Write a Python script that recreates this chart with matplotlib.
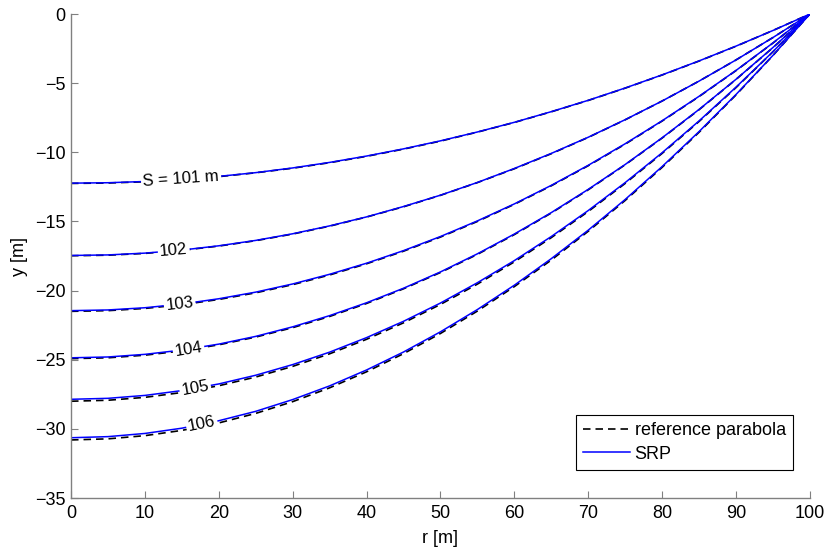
import numpy as np
import matplotlib
matplotlib.use("Agg")
import matplotlib.pyplot as plt

plt.rcParams['font.family'] = ['Liberation Sans', 'DejaVu Sans']
plt.rcParams['font.size'] = 13

# radial position along the profile
r = [0, 5, 10, 15, 20, 25, 30, 35, 40, 45, 50,
     55, 60, 65, 70, 75, 80, 85, 90, 95, 100]

S_values = [101, 102, 103, 104, 105, 106]

# reference parabola with the same arc length S
ref_101 = [-12.25, -12.22, -12.13, -11.97, -11.76, -11.48, -11.15, -10.75, -10.29, -9.77, -9.19,
           -8.54, -7.84, -7.07, -6.25, -5.36, -4.41, -3.40, -2.33, -1.19, 0.0]
ref_102 = [-17.48, -17.44, -17.31, -17.09, -16.78, -16.39, -15.91, -15.34, -14.68, -13.94, -13.11,
           -12.19, -11.19, -10.10, -8.92, -7.65, -6.29, -4.85, -3.32, -1.70, 0.0]
ref_103 = [-21.50, -21.45, -21.29, -21.02, -20.64, -20.16, -19.57, -18.87, -18.06, -17.15, -16.13,
           -15.00, -13.76, -12.42, -10.97, -9.41, -7.74, -5.97, -4.09, -2.10, 0.0]
ref_104 = [-24.92, -24.86, -24.67, -24.36, -23.92, -23.36, -22.68, -21.87, -20.93, -19.87, -18.69,
           -17.38, -15.95, -14.39, -12.71, -10.90, -8.97, -6.92, -4.73, -2.43, 0.0]
ref_105 = [-28.00, -27.93, -27.72, -27.37, -26.88, -26.25, -25.48, -24.57, -23.52, -22.33, -21.00,
           -19.53, -17.92, -16.17, -14.28, -12.25, -10.08, -7.77, -5.32, -2.73, 0.0]
ref_106 = [-30.80, -30.72, -30.49, -30.11, -29.57, -28.88, -28.03, -27.03, -25.87, -24.56, -23.10,
           -21.48, -19.71, -17.79, -15.71, -13.48, -11.09, -8.55, -5.85, -3.00, 0.0]

# SRP solution
srp_101 = [-12.23, -12.20, -12.11, -11.95, -11.74, -11.47, -11.13, -10.73, -10.27, -9.75, -9.17,
           -8.53, -7.83, -7.06, -6.24, -5.35, -4.40, -3.39, -2.32, -1.19, 0.0]
srp_102 = [-17.46, -17.42, -17.29, -17.07, -16.76, -16.37, -15.89, -15.32, -14.67, -13.92, -13.10,
           -12.18, -11.17, -10.08, -8.91, -7.64, -6.29, -4.85, -3.32, -1.70, 0.0]
srp_103 = [-21.45, -21.40, -21.24, -20.97, -20.59, -20.11, -19.52, -18.82, -18.02, -17.11, -16.09,
           -14.96, -13.73, -12.39, -10.94, -9.38, -7.72, -5.95, -4.08, -2.09, 0.0]
srp_104 = [-24.86, -24.80, -24.61, -24.30, -23.87, -23.31, -22.62, -21.81, -20.88, -19.83, -18.65,
           -17.34, -15.91, -14.36, -12.68, -10.88, -8.95, -6.90, -4.72, -2.42, 0.0]
srp_105 = [-27.86, -27.79, -27.58, -27.23, -26.75, -26.12, -25.35, -24.45, -23.40, -22.22, -20.90,
           -19.43, -17.83, -16.09, -14.21, -12.19, -10.03, -7.73, -5.29, -2.72, 0.0]
srp_106 = [-30.64, -30.56, -30.33, -29.95, -29.41, -28.73, -27.88, -26.89, -25.74, -24.44, -22.98,
           -21.37, -19.61, -17.69, -15.63, -13.41, -11.03, -8.50, -5.82, -2.99, 0.0]

ref_curves = [ref_101, ref_102, ref_103, ref_104, ref_105, ref_106]
srp_curves = [srp_101, srp_102, srp_103, srp_104, srp_105, srp_106]

label_texts = ["S = 101 m", "102", "103", "104", "105", "106"]
label_r = [14.9, 13.9, 14.7, 15.9, 16.8, 17.7]

fig = plt.figure(figsize=(8.26, 5.5), dpi=100)
ax = fig.add_axes([0.086, 0.0945, 0.8945, 0.88])

for i in range(len(S_values)):
    ax.plot(r, ref_curves[i], color='black', lw=1.2, dashes=(4.5, 3),
            label='reference parabola' if i == 0 else None)
for i in range(len(S_values)):
    ax.plot(r, srp_curves[i], color='#0000ff', lw=1.1,
            label='SRP' if i == 0 else None)

ax.set_xlim(0, 100)
ax.set_ylim(-35, 0)
ax.set_xticks(np.arange(0, 101, 10))
ax.set_yticks(np.arange(-35, 1, 5))

for side in ['top', 'right']:
    ax.spines[side].set_visible(False)
for side in ['left', 'bottom']:
    ax.spines[side].set_color('#808080')
    ax.spines[side].set_linewidth(1.0)
ax.tick_params(direction='in', length=5, color='#808080', labelsize=13)
ax.tick_params(axis='x', pad=5)
ax.tick_params(axis='y', pad=4)

ax.set_xlabel('r [m]', fontsize=13, labelpad=6)
ax.set_ylabel('y [m]', fontsize=13, labelpad=5)

# inline contour-style labels, rotated along each SRP curve
fig.canvas.draw()
for txt, rl, ys in zip(label_texts, label_r, srp_curves):
    yl = np.interp(rl, r, ys)
    p0 = ax.transData.transform((rl - 1, np.interp(rl - 1, r, ys)))
    p1 = ax.transData.transform((rl + 1, np.interp(rl + 1, r, ys)))
    ang = np.degrees(np.arctan2(p1[1] - p0[1], p1[0] - p0[0]))
    ax.text(rl, yl, txt, ha='center', va='center', rotation=ang,
            rotation_mode='anchor', fontsize=12, zorder=5,
            bbox=dict(facecolor='white', edgecolor='none', pad=1.5))

leg = ax.legend(loc='lower right', bbox_to_anchor=(0.977, 0.058), fontsize=13,
                frameon=True, fancybox=False, shadow=False, framealpha=1,
                handlelength=2.6, handletextpad=0.25, borderpad=0.4,
                labelspacing=0.35, borderaxespad=0)
leg.get_frame().set_edgecolor('black')
leg.get_frame().set_linewidth(0.8)

fig.savefig('out.png', dpi=100)
